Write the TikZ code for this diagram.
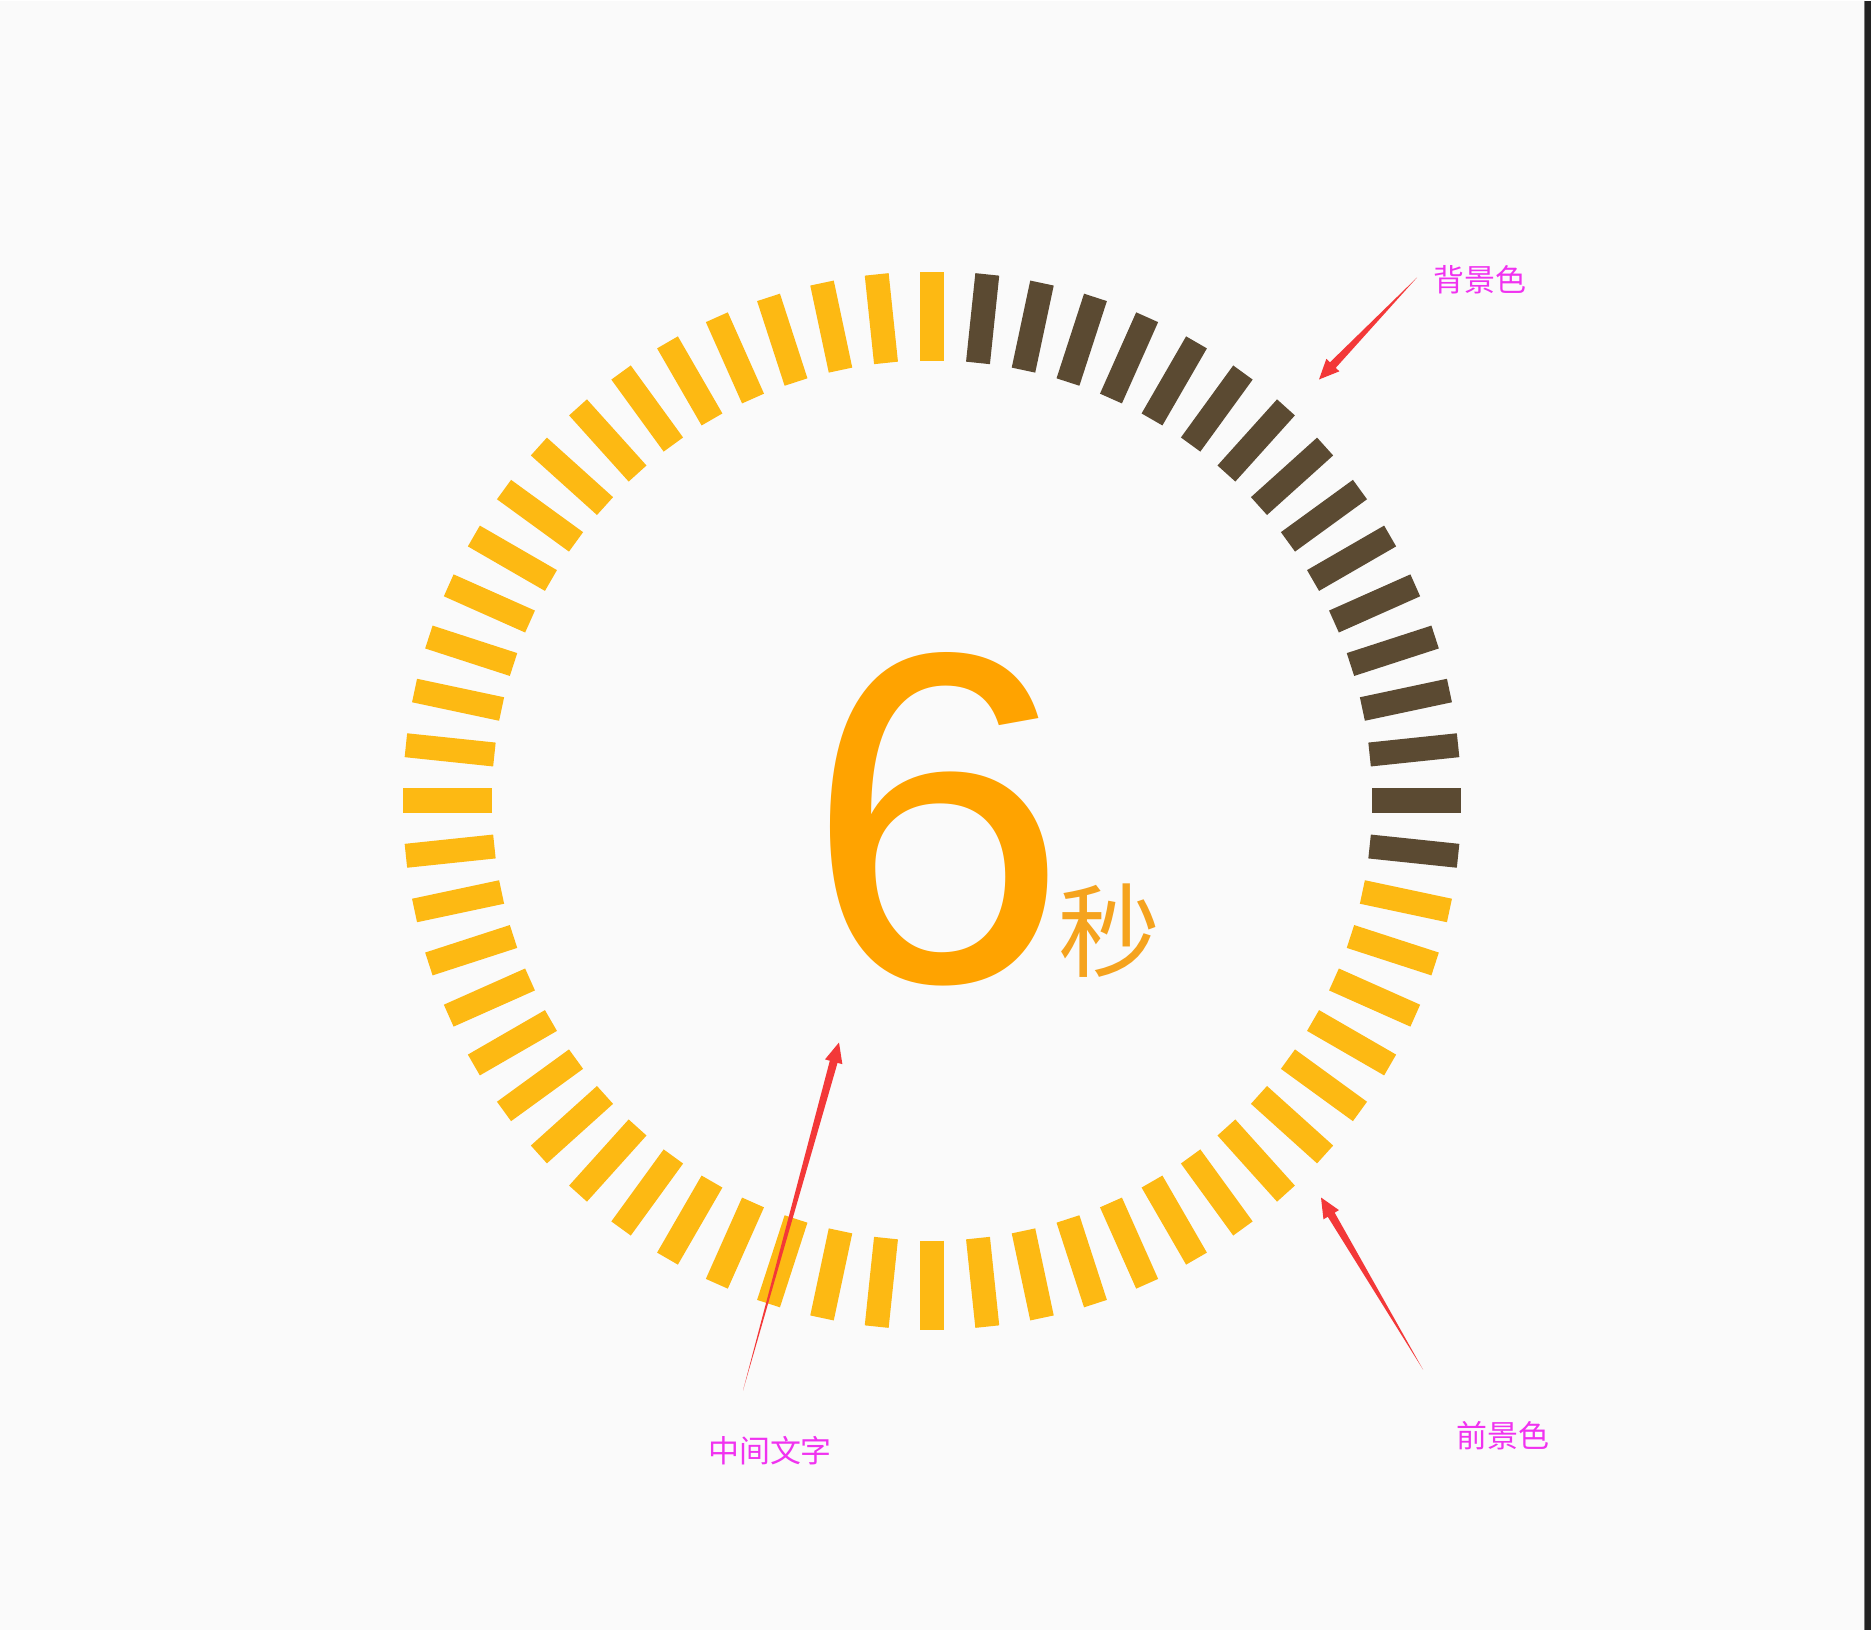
\documentclass[tikz,border=0pt]{standalone}
\usepackage{fontspec}
\setmainfont{Liberation Sans}
\newfontfamily\cjk{Noto Sans CJK SC}
\usepackage{tikz}
\usetikzlibrary{calc}

\definecolor{paper}{RGB}{250,250,250}
\definecolor{edgedark}{RGB}{34,34,34}
\definecolor{edgeline}{RGB}{120,120,120}
\definecolor{fgyellow}{RGB}{253,185,19}
\definecolor{bgbrown}{RGB}{91,74,50}
\definecolor{numorange}{RGB}{255,163,0}
\definecolor{unitorange}{RGB}{245,163,30}
\definecolor{notemag}{RGB}{240,50,240}
\definecolor{pointerred}{RGB}{243,56,56}

% tapered red pointer from #1 (tail) to #2 (tip)
\newcommand{\pointer}[2]{%
  \coordinate (#2base) at ($(#2)!0.2cm!(#1)$);
  \fill[pointerred] (#1)
    -- ($(#2base)!0.04cm!90:(#1)$)
    -- ($(#2base)!0.09cm!90:(#1)$)
    -- (#2)
    -- ($(#2base)!0.09cm!-90:(#1)$)
    -- ($(#2base)!0.04cm!-90:(#1)$)
    -- cycle;}

\begin{document}
\begin{tikzpicture}[x=0.01cm, y=-0.01cm,
  fgtick/.style={draw=fgyellow, line width=0.24cm},
  bgtick/.style={draw=bgbrown, line width=0.24cm},
  note/.style={font={\cjk\fontsize{8.8}{10}\selectfont}, text=notemag, inner sep=0pt}
]
\fill[paper] (0,0) rectangle (1871,1629);
\fill[edgedark] (1864,0) rectangle (1871,1629);
\draw[edgeline, line width=0.01cm] (1864.5,0) -- (1864.5,1629);

% ring of ticks
\begin{scope}[shift={(932,800)}]
  \foreach \a in {12,18,...,270} \draw[fgtick] (\a:440) -- (\a:529);
  \foreach \a in {276,282,...,366} \draw[bgtick] (\a:440) -- (\a:529);
\end{scope}

% centre text
\node[font={\fontsize{134}{134}\selectfont}, text=numorange, inner sep=0pt, anchor=base] (num) at (938,981) {\makebox[2.2cm]{6}};
\node[font={\cjk\fontsize{29}{29}\selectfont}, text=unitorange, inner sep=0pt] (unit) at (1109,930) {秒};

% notes
\node[note] (bglabel) at (1480,279) {背景色};
\node[note] (fglabel) at (1503,1435) {前景色};
\node[note] (midlabel) at (770,1450) {中间文字};

\coordinate (bgtail) at (1417,277);
\coordinate (bgtip) at (1319,379);
\coordinate (fgtail) at (1423,1369);
\coordinate (fgtip) at (1321,1197);
\coordinate (midtail) at (743,1390);
\coordinate (midtip) at (839,1042);
\pointer{bgtail}{bgtip}
\pointer{fgtail}{fgtip}
\pointer{midtail}{midtip}
\end{tikzpicture}
\end{document}
